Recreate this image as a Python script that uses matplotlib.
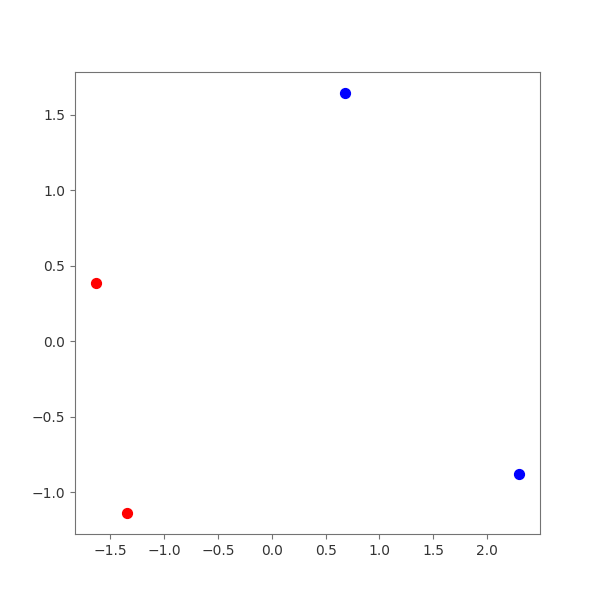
import numpy as np
import matplotlib
matplotlib.use("Agg")
import matplotlib.pyplot as plt

# point coordinates
x_red = [-1.631, -1.348]
y_red = [0.385, -1.136]
x_blue = [0.676, 2.295]
y_blue = [1.643, -0.879]

fig, ax = plt.subplots(figsize=(6, 6), dpi=100)
ax.scatter(x_red, y_red, color="red", s=50)
ax.scatter(x_blue, y_blue, color="blue", s=50)
for sp in ax.spines.values():
    sp.set_edgecolor("0.45")
ax.tick_params(colors="0.45", labelcolor="#333333")
fig.savefig("out.png")
